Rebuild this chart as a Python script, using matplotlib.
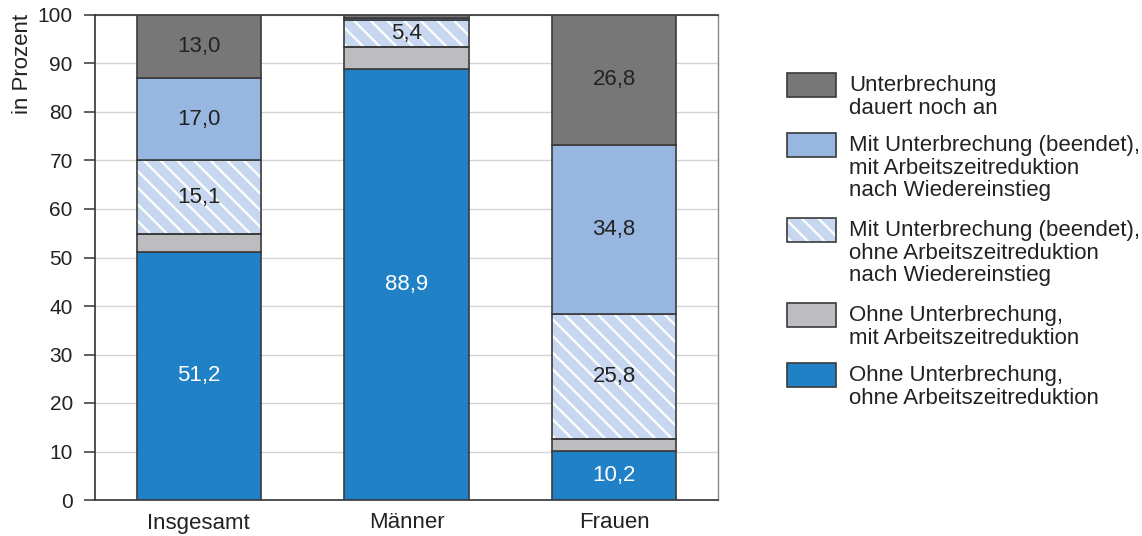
import matplotlib
matplotlib.use("Agg")
import matplotlib.pyplot as plt
import numpy as np
from matplotlib.patches import Rectangle

plt.rcParams['font.family'] = ['Liberation Sans', 'DejaVu Sans']
plt.rcParams['hatch.linewidth'] = 1.6

# data (percent), stacked bottom -> top
groups = ['Insgesamt', 'Männer', 'Frauen']
ohne_ohne = [51.2, 88.9, 10.2]      # Ohne Unterbrechung, ohne Arbeitszeitreduktion
ohne_mit = [3.7, 4.6, 2.4]          # Ohne Unterbrechung, mit Arbeitszeitreduktion
mit_ohne = [15.1, 5.4, 25.8]        # Mit Unterbrechung (beendet), ohne AZR
mit_mit = [17.0, 0.5, 34.8]         # Mit Unterbrechung (beendet), mit AZR
dauert = [13.0, 0.6, 26.8]          # Unterbrechung dauert noch an

series = [ohne_ohne, ohne_mit, mit_ohne, mit_mit, dauert]
labels = ['Ohne Unterbrechung,\nohne Arbeitszeitreduktion',
          'Ohne Unterbrechung,\nmit Arbeitszeitreduktion',
          'Mit Unterbrechung (beendet),\nohne Arbeitszeitreduktion\nnach Wiedereinstieg',
          'Mit Unterbrechung (beendet),\nmit Arbeitszeitreduktion\nnach Wiedereinstieg',
          'Unterbrechung\ndauert noch an']
colors = ['#2181c6', '#bdbdc1', '#c7d7ef', '#97b6e0', '#777777']
hatched = [False, False, True, False, False]
text_colors = ['white', '#222222', '#222222', '#222222', '#222222']

EDGE = '#3a3a3a'
FS = 16
W, H = 1142, 536
fig = plt.figure(figsize=(W / 100, H / 100), dpi=100)
ax = fig.add_axes([95 / W, 36 / H, 623 / W, 485 / H])

x = np.arange(len(groups))
BAR_WIDTH = 0.6
bottom = np.zeros(len(groups))
for vals, col, hat, tc in zip(series, colors, hatched, text_colors):
    vals = np.array(vals)
    if hat:
        ax.bar(x, vals, BAR_WIDTH, bottom=bottom, color=col, edgecolor='white',
               linewidth=0, hatch='\\\\', zorder=2)
        ax.bar(x, vals, BAR_WIDTH, bottom=bottom, fill=False, edgecolor=EDGE,
               linewidth=1.2, zorder=3)
    else:
        ax.bar(x, vals, BAR_WIDTH, bottom=bottom, color=col, edgecolor=EDGE,
               linewidth=1.2, zorder=3)
    for i, v in enumerate(vals):
        if v >= 5:
            ax.text(x[i], bottom[i] + v / 2, f'{v:.1f}'.replace('.', ','),
                    ha='center', va='center', fontsize=FS, color=tc, zorder=4)
    bottom += vals

ax.set_xlim(-0.5, 2.5)
ax.set_ylim(0, 100)
ax.set_yticks(np.arange(0, 101, 10))
ax.set_xticks(x)
ax.set_xticklabels(groups)
ax.tick_params(axis='y', length=8, width=1.2, color='#444444', pad=8,
               labelsize=15, labelcolor='#222222')
ax.tick_params(axis='x', length=0, pad=9, labelsize=FS, labelcolor='#222222')
ax.grid(axis='y', color='#d4d4d4', linewidth=1.0, zorder=0)
ax.set_axisbelow(True)
for s in ['left', 'bottom', 'top']:
    ax.spines[s].set_color('#333333')
    ax.spines[s].set_linewidth(1.2)
ax.spines['right'].set_color('#888888')
ax.spines['right'].set_linewidth(1.0)

fig.text(12 / W, 1 - 14 / H, 'in Prozent', rotation=90, ha='left', va='top',
         fontsize=FS, color='#222222')

# legend, drawn top -> bottom
leg_tops = [73, 133, 218, 303, 363]
for k, idx in enumerate([4, 3, 2, 1, 0]):
    top = leg_tops[k]
    rx, ry = 787 / W, 1 - (top + 24) / H
    rw, rh = 49 / W, 24 / H
    if hatched[idx]:
        fig.add_artist(Rectangle((rx, ry), rw, rh, transform=fig.transFigure,
                                 facecolor=colors[idx], edgecolor='white',
                                 linewidth=0, hatch='\\\\'))
        fig.add_artist(Rectangle((rx, ry), rw, rh, transform=fig.transFigure,
                                 fill=False, edgecolor=EDGE, linewidth=1.2))
    else:
        fig.add_artist(Rectangle((rx, ry), rw, rh, transform=fig.transFigure,
                                 facecolor=colors[idx], edgecolor=EDGE, linewidth=1.2))
    fig.text(849 / W, 1 - (top + 2) / H, labels[idx], ha='left', va='top',
             fontsize=FS, color='#222222', linespacing=1.1)

fig.savefig('out.png', dpi=100)
